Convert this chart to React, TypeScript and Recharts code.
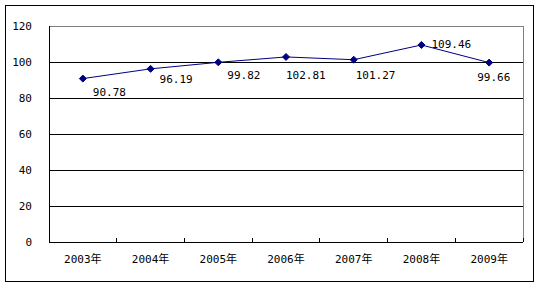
import { LineChart, Line, XAxis, YAxis, CartesianGrid } from 'recharts';

const years = ['2003年', '2004年', '2005年', '2006年', '2007年', '2008年', '2009年'];
const values = [90.78, 96.19, 99.82, 102.81, 101.27, 109.46, 99.66];
const yTicks = [0, 20, 40, 60, 80, 100, 120];

const data = years.map((year, i) => ({ year, value: values[i] }));

const font = "'DejaVu Sans Mono', 'Noto Sans CJK SC', monospace";
const navy = '#000080';
const xTickMargin = 13;

// label nudges, as placed by hand in the original chart
const labelOffsets = [
  [10, 14], [9, 11], [9, 13], [0, 19], [2, 16], [10, 0], [-12, 15]
];

const Diamond = (props: any) => {
  const { cx, cy } = props;
  if (cx == null || cy == null) return null;
  const r = 3.5;
  return (
    <polygon
      points={`${cx},${cy - r} ${cx + r},${cy} ${cx},${cy + r} ${cx - r},${cy}`}
      fill={navy}
      stroke={navy}
    />
  );
};

const ValueLabel = (props: any) => {
  const { x, y, index, value } = props;
  const [dx, dy] = labelOffsets[index] || [0, 0];
  return (
    <text
      x={x + dx}
      y={y + dy}
      dominantBaseline="central"
      fontFamily={font}
      fontSize={11}
      fill="#000"
    >
      {Number(value).toFixed(2)}
    </text>
  );
};

// category label plus Excel-style tick marks on the band boundaries, pointing inward
const YearTick = (props: any) => {
  const { x, y, payload, index, visibleTicksCount } = props;
  const half = payload.offset || 0;
  const axisY = y - xTickMargin;
  const last = index === visibleTicksCount - 1;
  return (
    <g>
      <line x1={x - half} x2={x - half} y1={axisY - 4} y2={axisY} stroke="#000" shapeRendering="crispEdges" />
      {last && (
        <line x1={x + half} x2={x + half} y1={axisY - 4} y2={axisY} stroke="#000" shapeRendering="crispEdges" />
      )}
      <text x={x} y={y} dy="0.71em" textAnchor="middle" fontFamily={font} fontSize={11} fill="#000">
        {payload.value}
      </text>
    </g>
  );
};

export default function App() {
  return (
    <div style={{ position: 'absolute', left: 0, top: 0, width: 553, height: 288, background: '#fff' }}>
      <div
        style={{
          position: 'absolute',
          left: 5,
          top: 5,
          width: 529,
          height: 277,
          border: '1px solid #000',
          boxSizing: 'border-box',
        }}
      />
      <div style={{ position: 'absolute', left: 0, top: 0 }}>
        <LineChart width={553} height={288} data={data} margin={{ top: 26, right: 30, left: 0, bottom: 0 }}>
          <CartesianGrid
            vertical={false}
            horizontalValues={[20, 40, 60, 80, 100]}
            stroke="#000"
            shapeRendering="crispEdges"
          />
          <CartesianGrid
            horizontalCoordinatesGenerator={({ offset }: any) => [offset.top]}
            verticalCoordinatesGenerator={({ offset }: any) => [offset.left + offset.width]}
            stroke="#808080"
            shapeRendering="crispEdges"
          />
          <XAxis
            dataKey="year"
            scale="band"
            height={46}
            tickLine={false}
            tickSize={0}
            tickMargin={xTickMargin}
            axisLine={{ stroke: '#000', shapeRendering: 'crispEdges' }}
            tick={<YearTick />}
            interval={0}
          />
          <YAxis
            width={49}
            domain={[0, 120]}
            ticks={yTicks}
            tickLine={false}
            tickMargin={11}
            axisLine={{ stroke: '#000', shapeRendering: 'crispEdges' }}
            tick={{ fontFamily: font, fontSize: 11, fill: '#000' }}
          />
          <Line
            dataKey="value"
            stroke={navy}
            strokeWidth={1}
            dot={<Diamond />}
            activeDot={false}
            label={<ValueLabel />}
            isAnimationActive={false}
          />
        </LineChart>
      </div>
    </div>
  );
}
